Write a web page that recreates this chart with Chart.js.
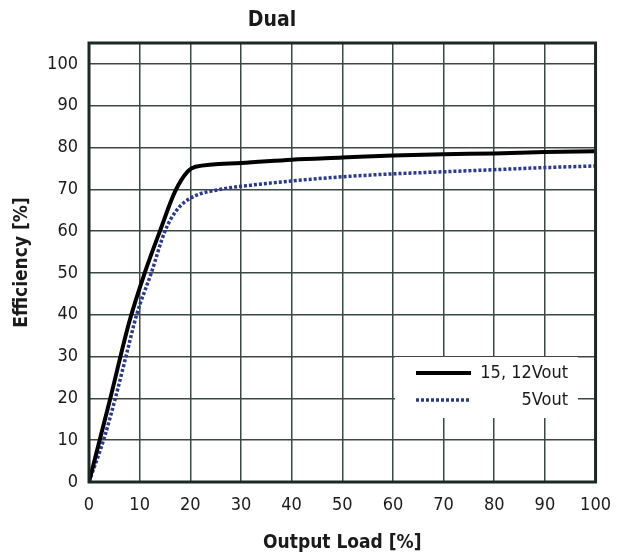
<!DOCTYPE html>
<html>
<head>
<meta charset="utf-8">
<script src="https://cdn.jsdelivr.net/npm/chart.js@4"></script>
<style>
  html, body { margin: 0; padding: 0; background: #fff; }
  #wrap { width: 624px; height: 558px; }
</style>
</head>
<body>
<div id="wrap"><canvas id="chart" width="624" height="558"></canvas></div>
<script>
const FONT = '"Liberation Sans Narrow", "DejaVu Sans Condensed", "Roboto", sans-serif';
const title = 'Dual';
const seriesNames = ['15, 12Vout', '5Vout'];
const xTicks = [0, 10, 20, 30, 40, 50, 60, 70, 80, 90, 100];
const yTicks = [0, 10, 20, 30, 40, 50, 60, 70, 80, 90, 100];

// load [%] vs efficiency [%]
const loadHigh = [0, 4, 8, 11, 14, 17, 19.5, 21, 30, 40, 50, 60, 70, 80, 90, 100];
const effHigh = [0, 19, 38.5, 50, 60, 69.5, 74.3, 75.4, 76.3, 77.1, 77.6, 78.1, 78.4, 78.6, 78.9, 79.1];
const loadLow = [0, 3, 5.3, 7.5, 9.4, 12.3, 15, 17.3, 20.2, 26, 32, 40, 50, 60, 70, 80, 90, 100];
const effLow = [0, 10.5, 20.5, 31, 40, 50, 60, 65, 68, 70, 71, 72, 73, 73.7, 74.2, 74.7, 75.2, 75.6];

const toPts = (xs, ys) => xs.map((x, i) => ({x, y: ys[i]}));

const GRID = '#3a4944';
const BLUE = '#2b3990';

const frame = {
  id: 'frame',
  afterDraw(chart) {
    const {ctx, chartArea: a} = chart;
    ctx.save();
    // legend box
    ctx.fillStyle = '#fff';
    ctx.fillRect(395, 357, 183, 61);
    ctx.lineWidth = 4;
    ctx.strokeStyle = '#000';
    ctx.beginPath(); ctx.moveTo(416, 373); ctx.lineTo(471, 373); ctx.stroke();
    ctx.strokeStyle = BLUE;
    ctx.lineWidth = 3.5;
    ctx.setLineDash([3, 2]);
    ctx.beginPath(); ctx.moveTo(416, 400); ctx.lineTo(471, 400); ctx.stroke();
    ctx.setLineDash([]);
    ctx.fillStyle = '#1a1a1a';
    ctx.font = '18px ' + FONT;
    ctx.textAlign = 'right';
    ctx.textBaseline = 'middle';
    ctx.fillText(seriesNames[0], 568, 373);
    ctx.fillText(seriesNames[1], 568, 400);
    // plot border
    ctx.strokeStyle = '#1c2824';
    ctx.lineWidth = 3;
    ctx.strokeRect(a.left, a.top, a.right - a.left, a.bottom - a.top);
    // title
    ctx.fillStyle = '#1a1a1a';
    ctx.font = 'bold 21px ' + FONT;
    ctx.textAlign = 'center';
    ctx.fillText(title, 272, 21);
    ctx.restore();
  }
};

new Chart(document.getElementById('chart'), {
  type: 'scatter',
  data: {
    datasets: [
      {
        label: seriesNames[0],
        data: toPts(loadHigh, effHigh),
        showLine: true,
        borderColor: '#000',
        borderWidth: 4,
        pointRadius: 0,
        cubicInterpolationMode: 'monotone'
      },
      {
        label: seriesNames[1],
        data: toPts(loadLow, effLow),
        showLine: true,
        borderColor: BLUE,
        borderWidth: 3.5,
        borderDash: [3, 2],
        pointRadius: 0,
        cubicInterpolationMode: 'monotone'
      }
    ]
  },
  options: {
    responsive: false,
    animation: false,
    layout: {padding: {left: 7, right: 25, top: 43, bottom: 0}},
    plugins: {legend: {display: false}, tooltip: {enabled: false}},
    scales: {
      x: {
        type: 'linear',
        min: 0, max: 100,
        afterBuildTicks: s => { s.ticks = xTicks.map(v => ({value: v})); },
        afterFit: s => { s.height = 76; },
        grid: {color: GRID, lineWidth: 1.5, drawTicks: false},
        border: {display: false},
        ticks: {color: '#1a1a1a', font: {family: FONT, size: 18}, padding: 13, maxRotation: 0},
        title: {display: true, text: 'Output Load [%]', color: '#1a1a1a', font: {family: FONT, size: 19, weight: 'bold'}, padding: {top: 14}}
      },
      y: {
        min: 0, max: 105,
        afterBuildTicks: s => { s.ticks = yTicks.map(v => ({value: v})); },
        afterFit: s => { s.width = 82; },
        grid: {color: GRID, lineWidth: 1.5, drawTicks: false},
        border: {display: false},
        ticks: {color: '#1a1a1a', font: {family: FONT, size: 18}, padding: 11},
        title: {display: true, text: 'Efficiency [%]', color: '#1a1a1a', font: {family: FONT, size: 19, weight: 'bold'}, padding: {bottom: 6}}
      }
    }
  },
  plugins: [frame]
});
</script>
</body>
</html>
